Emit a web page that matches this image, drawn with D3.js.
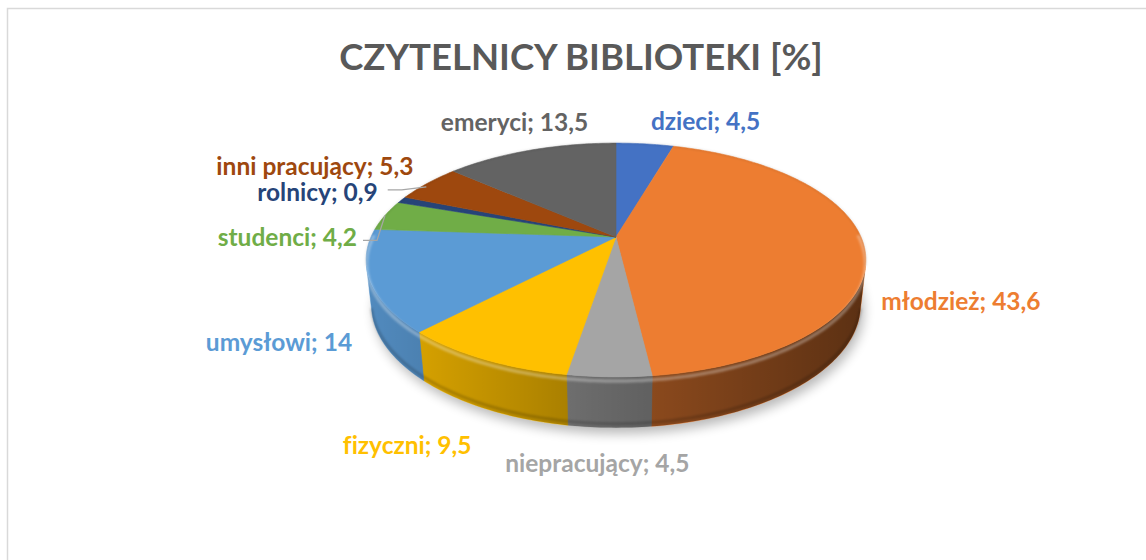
<!DOCTYPE html>
<html>
<head>
<meta charset="utf-8">
<script src="https://cdn.jsdelivr.net/npm/d3@7"></script>
<style>
	body { margin: 0; background: #fff; }
	text { font-family: Lato, "Open Sans", sans-serif; font-weight: bold; font-variant-ligatures: none; }
</style>
</head>
<body>
<svg id="chart" width="1146" height="560"></svg>
<script>
// Data
var title = 'CZYTELNICY BIBLIOTEKI [%]';
var categories = ['dzieci', 'młodzież', 'niepracujący', 'fizyczni', 'umysłowi', 'studenci', 'rolnicy', 'inni pracujący', 'emeryci'];
var values = [4.5, 43.6, 4.5, 9.5, 14, 4.2, 0.9, 5.3, 13.5];

// Styles
var colors = ['#4472C4', '#ED7D31', '#A5A5A5', '#FFC000', '#5B9BD5', '#70AD47', '#264478', '#9E480E', '#636363'];

// Label placement, offsets from the rim point at each slice's middle
var labelLayout = [
	{ dx: 6, dy: -23, anchor: 'start' },
	{ dx: 17, dy: 54, anchor: 'start' },
	{ dx: -12, dy: 86, anchor: 'middle' },
	{ dx: -12, dy: 85, anchor: 'end' },
	{ dx: -18, dy: 61, anchor: 'end' },
	{ dx: -28, dy: 21, anchor: 'end', leader: 'studenci' },
	{ dx: -24, dy: -8, anchor: 'end', leader: 'rolnicy', leaderAngle: 300 },
	{ dx: -14, dy: -18, anchor: 'end' },
	{ dx: -16, dy: -29, anchor: 'middle' }
];

var width = 1146, height = 560;
var svg = d3.select('#chart');

// Perspective camera for the tilted disc
var cx = 616, cy = 237,
	focal = 1106.6,
	radius = 0.2214,
	depth = 0.0455,
	tilt = 27.3 * Math.PI / 180;

function project(theta, r, yv) {
	var X = radius * r * Math.sin(theta),
		Z = radius * r * Math.cos(theta);
	var yc = Z * Math.sin(tilt) + yv * Math.cos(tilt);
	var w = 1 + Z * Math.cos(tilt) - yv * Math.sin(tilt);
	return [cx + focal * X / w, cy - focal * yc / w];
}

function arcPoints(a0, a1, yv) {
	var n = Math.max(2, Math.ceil(Math.abs(a1 - a0) / (Math.PI / 180)));
	return d3.range(n + 1).map(function(i) { return project(a0 + (a1 - a0) * i / n, 1, yv); });
}

var line = d3.line();

var pie = d3.pie().sort(null).value(function(d) { return d; });
var slices = pie(values);

var defs = svg.append('defs');
defs.append('filter').attr('id', 'shadowBlur').attr('x', '-20%').attr('y', '-20%').attr('width', '140%').attr('height', '140%')
	.append('feGaussianBlur').attr('stdDeviation', 6);
defs.append('filter').attr('id', 'softBlur')
	.append('feGaussianBlur').attr('stdDeviation', 1.2);

// horizontal darkening of the side wall
var wallGrad = defs.append('linearGradient').attr('id', 'wallShade')
	.attr('gradientUnits', 'userSpaceOnUse')
	.attr('x1', cx - 255).attr('x2', cx + 255).attr('y1', 0).attr('y2', 0);
wallGrad.append('stop').attr('offset', '0%').attr('stop-color', '#000').attr('stop-opacity', 0.1);
wallGrad.append('stop').attr('offset', '45%').attr('stop-color', '#000').attr('stop-opacity', 0.36);
wallGrad.append('stop').attr('offset', '100%').attr('stop-color', '#000').attr('stop-opacity', 0.62);

// chart border
svg.append('rect')
	.attr('x', 7.5).attr('y', 8.5)
	.attr('width', width + 20).attr('height', height + 20)
	.attr('fill', '#fff').attr('stroke', '#d9d9d9').attr('stroke-width', 1.5);

// Title
svg.append('text')
	.attr('x', 581).attr('y', 56)
	.attr('text-anchor', 'middle').attr('dominant-baseline', 'central')
	.style('font-size', '36.5px').attr('fill', '#595959')
	.text(title);

var g = svg.append('g').attr('class', 'pie3d');

// soft shadow under the disc
g.append('path')
	.attr('d', line(arcPoints(0, 2 * Math.PI, -depth)) + 'Z')
	.attr('transform', 'translate(3,6)')
	.attr('fill', '#000').attr('opacity', 0.28)
	.attr('filter', 'url(#shadowBlur)');

// Visible range of the outer wall
var thL = Math.acos(-radius / Math.cos(tilt)),
	thR = 2 * Math.PI - thL;

var walls = g.append('g').attr('class', 'walls');
slices.forEach(function(s, i) {
	var t0 = Math.max(s.startAngle, thL), t1 = Math.min(s.endAngle, thR);
	if (t1 <= t0) return;
	var pts = arcPoints(t0, t1, 0).concat(arcPoints(t1, t0, -depth));
	walls.append('path')
		.attr('d', line(pts) + 'Z')
		.attr('fill', colors[i])
		.attr('stroke', colors[i]).attr('stroke-width', 0.5);
});
var band = arcPoints(thL, thR, 0).concat(arcPoints(thR, thL, -depth));
walls.append('path').attr('d', line(band) + 'Z').attr('fill', 'url(#wallShade)');
// darker lower rim
walls.append('path')
	.attr('d', line(arcPoints(thL, thR, -depth * 0.92)))
	.attr('fill', 'none').attr('stroke', '#000').attr('stroke-opacity', 0.18)
	.attr('stroke-width', 3).attr('filter', 'url(#softBlur)');

// Top faces
var tops = g.append('g').attr('class', 'tops');
slices.forEach(function(s, i) {
	var pts = [project(0, 0, 0)].concat(arcPoints(s.startAngle, s.endAngle, 0));
	tops.append('path')
		.attr('d', line(pts) + 'Z')
		.attr('fill', colors[i])
		.attr('stroke', colors[i]).attr('stroke-width', 0.6);
});

// bevel highlight along the rim
tops.append('path')
	.attr('d', line(arcPoints(thL - 0.3, thR + 0.3, -depth * 0.08)))
	.attr('fill', 'none').attr('stroke', '#fff').attr('stroke-opacity', 0.3)
	.attr('stroke-width', 3.5).attr('filter', 'url(#softBlur)');
tops.append('path')
	.attr('d', line(arcPoints(thR, thL + 2 * Math.PI, 0)))
	.attr('fill', 'none').attr('stroke', '#000').attr('stroke-opacity', 0.08)
	.attr('stroke-width', 2).attr('filter', 'url(#softBlur)');

// Labels
var labels = svg.append('g').attr('class', 'labels');
slices.forEach(function(s, i) {
	var mid = (s.startAngle + s.endAngle) / 2,
		rim = project(mid, 1, 0),
		lay = labelLayout[i],
		lx = rim[0] + lay.dx,
		ly = rim[1] + lay.dy;

	labels.append('text')
		.attr('x', lx).attr('y', ly)
		.attr('text-anchor', lay.anchor).attr('dominant-baseline', 'central')
		.style('font-size', '24.5px')
		.attr('fill', colors[i])
		.text(categories[i] + '; ' + String(values[i]).replace('.', ','));

	if (lay.leader == 'studenci') {
		labels.append('path')
			.attr('d', line([[lx + 6, ly + 4], [lx + 20, ly + 4], rim]))
			.attr('fill', 'none').attr('stroke', '#a6a6a6').attr('stroke-width', 1.3);
	} else if (lay.leader == 'rolnicy') {
		var end = project(lay.leaderAngle * Math.PI / 180, 0.98, 0);
		labels.append('path')
			.attr('d', line([[lx + 10, ly - 2], [lx + 24, ly - 2], end]))
			.attr('fill', 'none').attr('stroke', '#a6a6a6').attr('stroke-width', 1.3);
	}
});
</script>
</body>
</html>
